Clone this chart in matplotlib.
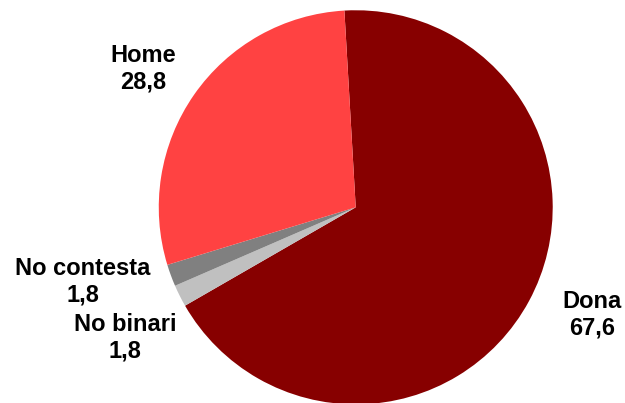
import matplotlib
matplotlib.use("Agg")
import matplotlib.pyplot as plt

# Survey breakdown by gender (%)
categories = ["Dona", "No binari", "No contesta", "Home"]
values = [67.6, 1.8, 1.8, 28.8]
colors = ["#870000", "#C0C0C0", "#808080", "#FF4242"]

# Label anchor positions in pie units (centre = 0,0, radius = 1)
label_x = [1.20, -1.171, -1.384, -1.080]
label_y = [-0.545, -0.66, -0.38, 0.705]

plt.rcParams["font.family"] = ["Liberation Sans", "DejaVu Sans"]

fig = plt.figure(figsize=(6.25, 4.03), dpi=100)
ax = fig.add_axes([0, 0, 1, 1])

ax.pie(values, colors=colors, startangle=93.3, counterclock=False,
       radius=1.0, center=(0, 0), frame=True,
       wedgeprops=dict(linewidth=0))

for cat, val, lx, ly in zip(categories, values, label_x, label_y):
    txt = f"{cat}\n{val:.1f}".replace(".", ",")
    ax.text(lx, ly, txt, ha="center", va="center", fontsize=17,
            fontweight="bold", linespacing=1.2, color="black")

ax.set_xlim(-1.806, 1.367)
ax.set_ylim(-0.993, 1.052)
ax.set_aspect("auto")
ax.axis("off")

fig.savefig("out.png", dpi=100, facecolor="white")
